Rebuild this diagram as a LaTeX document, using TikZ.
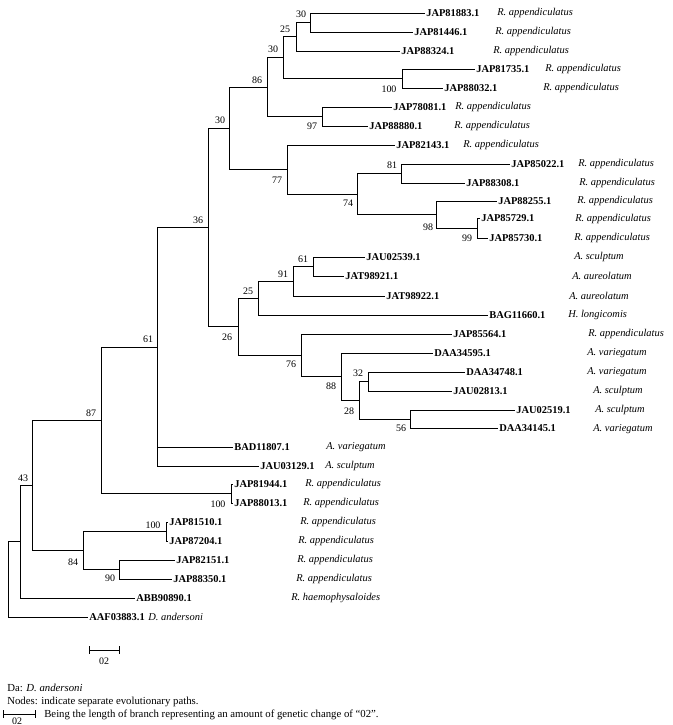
\documentclass[tikz,border=0pt]{standalone}
\usepackage{fontspec}
\setmainfont{Liberation Serif}
\begin{document}
\begin{tikzpicture}[x=1bp, y=-1bp, line width=0.6pt,
        leaf/.style={anchor=west, inner sep=1pt, font=\fontsize{10.5}{12}\selectfont\bfseries},
        spc/.style={anchor=west, inner sep=0pt, font=\fontsize{10.5}{12}\selectfont\itshape},
        boot/.style={inner sep=0pt, font=\fontsize{10}{12}\selectfont},
        note/.style={anchor=west, inner sep=0pt, font=\fontsize{10.8}{12}\selectfont}]
                \useasboundingbox (0,0) rectangle (673,725);

                \node[leaf] (l1) at (425,13) {JAP81883.1};
                \node[leaf] (l2) at (413,32) {JAP81446.1};
                \node[leaf] (l3) at (400,51) {JAP88324.1};
                \node[leaf] (l4) at (475,69) {JAP81735.1};
                \node[leaf] (l5) at (443,88) {JAP88032.1};
                \node[leaf] (l6) at (392,107) {JAP78081.1};
                \node[leaf] (l7) at (368,126) {JAP88880.1};
                \node[leaf] (l8) at (395,145) {JAP82143.1};
                \node[leaf] (l9) at (510,164) {JAP85022.1};
                \node[leaf] (l10) at (465,183) {JAP88308.1};
                \node[leaf] (l11) at (497,201) {JAP88255.1};
                \node[leaf] (l12) at (480,218) {JAP85729.1};
                \node[leaf] (l13) at (488,238) {JAP85730.1};
                \node[leaf] (l14) at (365,257) {JAU02539.1};
                \node[leaf] (l15) at (344,276) {JAT98921.1};
                \node[leaf] (l16) at (385,296) {JAT98922.1};
                \node[leaf] (l17) at (488,315) {BAG11660.1};
                \node[leaf] (l18) at (452,334) {JAP85564.1};
                \node[leaf] (l19) at (433,353) {DAA34595.1};
                \node[leaf] (l20) at (465,372) {DAA34748.1};
                \node[leaf] (l21) at (452,391) {JAU02813.1};
                \node[leaf] (l22) at (515,410) {JAU02519.1};
                \node[leaf] (l23) at (498,428) {DAA34145.1};
                \node[leaf] (l24) at (233,447) {BAD11807.1};
                \node[leaf] (l25) at (259,466) {JAU03129.1};
                \node[leaf] (l26) at (233,484) {JAP81944.1};
                \node[leaf] (l27) at (233,503) {JAP88013.1};
                \node[leaf] (l28) at (168,522) {JAP81510.1};
                \node[leaf] (l29) at (168,541) {JAP87204.1};
                \node[leaf] (l30) at (175,560) {JAP82151.1};
                \node[leaf] (l31) at (172,579) {JAP88350.1};
                \node[leaf] (l32) at (135,598) {ABB90890.1};
                \node[leaf] (l33) at (88,617) {AAF03883.1};

                \node[spc] (s1) at (497,13) {R. appendiculatus};
                \node[spc] (s2) at (495,32) {R. appendiculatus};
                \node[spc] (s3) at (493,51) {R. appendiculatus};
                \node[spc] (s4) at (545,69) {R. appendiculatus};
                \node[spc] (s5) at (543,88) {R. appendiculatus};
                \node[spc] (s6) at (455,107) {R. appendiculatus};
                \node[spc] (s7) at (454,126) {R. appendiculatus};
                \node[spc] (s8) at (463,145) {R. appendiculatus};
                \node[spc] (s9) at (578,164) {R. appendiculatus};
                \node[spc] (s10) at (579,183) {R. appendiculatus};
                \node[spc] (s11) at (577,201) {R. appendiculatus};
                \node[spc] (s12) at (575,219) {R. appendiculatus};
                \node[spc] (s13) at (574,238) {R. appendiculatus};
                \node[spc] (s14) at (574,257) {A. sculptum};
                \node[spc] (s15) at (572,276) {A. aureolatum};
                \node[spc] (s16) at (569,296) {A. aureolatum};
                \node[spc] (s17) at (568,315) {H. longicomis};
                \node[spc] (s18) at (588,334) {R. appendiculatus};
                \node[spc] (s19) at (587,353) {A. variegatum};
                \node[spc] (s20) at (587,372) {A. variegatum};
                \node[spc] (s21) at (593,391) {A. sculptum};
                \node[spc] (s22) at (595,410) {A. sculptum};
                \node[spc] (s23) at (593,429) {A. variegatum};
                \node[spc] (s24) at (326,447) {A. variegatum};
                \node[spc] (s25) at (325,466) {A. sculptum};
                \node[spc] (s26) at (305,484) {R. appendiculatus};
                \node[spc] (s27) at (303,503) {R. appendiculatus};
                \node[spc] (s28) at (300,522) {R. appendiculatus};
                \node[spc] (s29) at (298,541) {R. appendiculatus};
                \node[spc] (s30) at (297,560) {R. appendiculatus};
                \node[spc] (s31) at (296,579) {R. appendiculatus};
                \node[spc] (s32) at (291,598) {R. haemophysaloides};
                \node[spc] (s33) at (148,617) {D. andersoni};

                \coordinate (a30) at (310,22.5);
                \coordinate (a25) at (296,36.75);
                \coordinate (a100) at (402,78.5);
                \coordinate (nA) at (283,57.6);
                \coordinate (n97) at (322,116.5);
                \coordinate (nB) at (267,87);
                \coordinate (n81) at (401,173.5);
                \coordinate (n99) at (477,228);
                \coordinate (n98) at (436,214.5);
                \coordinate (n74) at (357,194);
                \coordinate (n77) at (287,169.5);
                \coordinate (nC) at (229,128.25);
                \coordinate (b61) at (313,266.5);
                \coordinate (n91) at (293,281);
                \coordinate (b25) at (258,298);
                \coordinate (n32) at (368,381.5);
                \coordinate (n56) at (410,419);
                \coordinate (n28) at (359,400);
                \coordinate (n88) at (341,376.5);
                \coordinate (n76) at (301,355);
                \coordinate (n26) at (238,326.5);
                \coordinate (nD) at (208,227);
                \coordinate (c61) at (157,347);
                \coordinate (c100) at (231,493.5);
                \coordinate (n87) at (101,420);
                \coordinate (d100) at (166,531.5);
                \coordinate (n90) at (119,569.5);
                \coordinate (n84) at (83,550.5);
                \coordinate (n43) at (32,485);
                \coordinate (nE) at (20,541.5);
                \coordinate (nR) at (8,579);

                \draw (a30) |- (l1.west) (a30) |- (l2.west);
                \draw (a25) |- (a30) (a25) |- (l3.west);
                \draw (a100) |- (l4.west) (a100) |- (l5.west);
                \draw (nA) |- (a25) (nA) |- (a100);
                \draw (n97) |- (l6.west) (n97) |- (l7.west);
                \draw (nB) |- (nA) (nB) |- (n97);
                \draw (n81) |- (l9.west) (n81) |- (l10.west);
                \draw (n99) |- (l12.west) (n99) |- (l13.west);
                \draw (n98) |- (l11.west) (n98) |- (n99);
                \draw (n74) |- (n81) (n74) |- (n98);
                \draw (n77) |- (l8.west) (n77) |- (n74);
                \draw (nC) |- (nB) (nC) |- (n77);
                \draw (b61) |- (l14.west) (b61) |- (l15.west);
                \draw (n91) |- (b61) (n91) |- (l16.west);
                \draw (b25) |- (n91) (b25) |- (l17.west);
                \draw (n32) |- (l20.west) (n32) |- (l21.west);
                \draw (n56) |- (l22.west) (n56) |- (l23.west);
                \draw (n28) |- (n32) (n28) |- (n56);
                \draw (n88) |- (l19.west) (n88) |- (n28);
                \draw (n76) |- (l18.west) (n76) |- (n88);
                \draw (n26) |- (b25) (n26) |- (n76);
                \draw (nD) |- (nC) (nD) |- (n26);
                \draw (c61) |- (nD) (c61) |- (l24.west) (c61) |- (l25.west);
                \draw (c100) |- (l26.west) (c100) |- (l27.west);
                \draw (n87) |- (c61) (n87) |- (c100);
                \draw (d100) |- (l28.west) (d100) |- (l29.west);
                \draw (n90) |- (l30.west) (n90) |- (l31.west);
                \draw (n84) |- (d100) (n84) |- (n90);
                \draw (n43) |- (n87) (n43) |- (n84);
                \draw (nE) |- (n43) (nE) |- (l32.west);
                \draw (nR) |- (nE) (nR) |- (l33.west);

                \node[boot] (t1) at (301,14) {30};
                \node[boot] (t2) at (285,29) {25};
                \node[boot] (t3) at (389,89) {100};
                \node[boot] (t4) at (273,49) {30};
                \node[boot] (t5) at (312,126) {97};
                \node[boot] (t6) at (257,80) {86};
                \node[boot] (t7) at (392,165) {81};
                \node[boot] (t8) at (467,238) {99};
                \node[boot] (t9) at (428,227) {98};
                \node[boot] (t10) at (348,203) {74};
                \node[boot] (t11) at (277,180) {77};
                \node[boot] (t12) at (220,120) {30};
                \node[boot] (t13) at (303,259) {61};
                \node[boot] (t14) at (283,274) {91};
                \node[boot] (t15) at (248,291) {25};
                \node[boot] (t16) at (358,373) {32};
                \node[boot] (t17) at (401,428) {56};
                \node[boot] (t18) at (349,411) {28};
                \node[boot] (t19) at (331,386) {88};
                \node[boot] (t20) at (291,364) {76};
                \node[boot] (t21) at (227,337) {26};
                \node[boot] (t22) at (198,220) {36};
                \node[boot] (t23) at (148,339) {61};
                \node[boot] (t24) at (218,504) {100};
                \node[boot] (t25) at (91,413) {87};
                \node[boot] (t26) at (153,525) {100};
                \node[boot] (t27) at (110,578) {90};
                \node[boot] (t28) at (73,562) {84};
                \node[boot] (t29) at (23,478) {43};

                \coordinate (sbl) at (89,650);
                \coordinate (sbr) at (119,650);
                \draw (sbl) -- (sbr);
                \draw ([yshift=-4pt]sbl) -- ([yshift=4pt]sbl) ([yshift=-4pt]sbr) -- ([yshift=4pt]sbr);
                \node[boot] (sbt) at (104,661) {02};

                \node[note] (da) at (7,688) {Da: \textit{D. andersoni}};
                \node[note] (nd) at (7,702) {Nodes: indicate separate evolutionary paths.};
                \coordinate (kbl) at (3,714);
                \coordinate (kbr) at (35,714);
                \draw (kbl) -- (kbr);
                \draw ([yshift=-4pt]kbl) -- ([yshift=4pt]kbl) ([yshift=-4pt]kbr) -- ([yshift=4pt]kbr);
                \node[boot] (kbt) at (17,721) {02};
                \node[note] (kb) at (44,715) {Being the length of branch representing an amount of genetic change of “02”.};
            \end{tikzpicture}
\end{document}
